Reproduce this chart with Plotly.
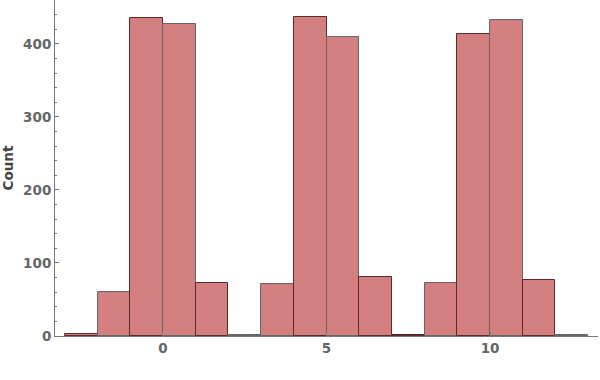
import plotly.graph_objects as go

bin_edges = list(range(-3, 14))
counts = [3, 60, 435, 427, 73, 1, 71, 437, 410, 81, 2, 72, 414, 433, 77, 2]
edge_colors = ["#5a2a2a", "#666666", "#5a2a2a", "#666666", "#5a2a2a", "#666666",
               "#666666", "#5a2a2a", "#666666", "#5a2a2a", "#5a2a2a", "#666666",
               "#5a2a2a", "#666666", "#5a2a2a", "#666666"]

centers = [(bin_edges[i] + bin_edges[i + 1]) / 2 for i in range(len(counts))]
widths = [bin_edges[i + 1] - bin_edges[i] for i in range(len(counts))]

fig = go.Figure(go.Bar(
    x=centers, y=counts, width=widths,
    marker=dict(color="#d37f7f", line=dict(color=edge_colors, width=1)),
))

font_fam = "DejaVu Sans"
fig.update_layout(
    width=600, height=380,
    margin=dict(l=55, r=2, t=0, b=44),
    plot_bgcolor="white", paper_bgcolor="white",
    showlegend=False, bargap=0,
    font=dict(family=font_fam, color="#666666"),
)
fig.update_xaxes(
    range=[-3.3, 13.3], tickvals=[0, 5, 10], ticktext=["0", "5", "10"],
    showgrid=False, zeroline=False, showline=True, linecolor="#777777", linewidth=1,
    ticks="inside", ticklen=4, tickcolor="#777777",
    tickfont=dict(family=font_fam, size=13.5, color="#666666", weight="bold"),
)
fig.update_yaxes(
    range=[0, 460], tickvals=[0, 100, 200, 300, 400],
    showgrid=False, zeroline=False, showline=True, linecolor="#777777", linewidth=1,
    ticks="inside", ticklen=4, tickcolor="#777777",
    minor=dict(dtick=20, ticks="inside", ticklen=2, tickcolor="#777777", showgrid=False),
    tickfont=dict(family=font_fam, size=13.5, color="#666666", weight="bold"),
    title=dict(text="Count", font=dict(family=font_fam, size=13.5, color="#444444", weight="bold"), standoff=7),
)
fig.write_html("out.html")
